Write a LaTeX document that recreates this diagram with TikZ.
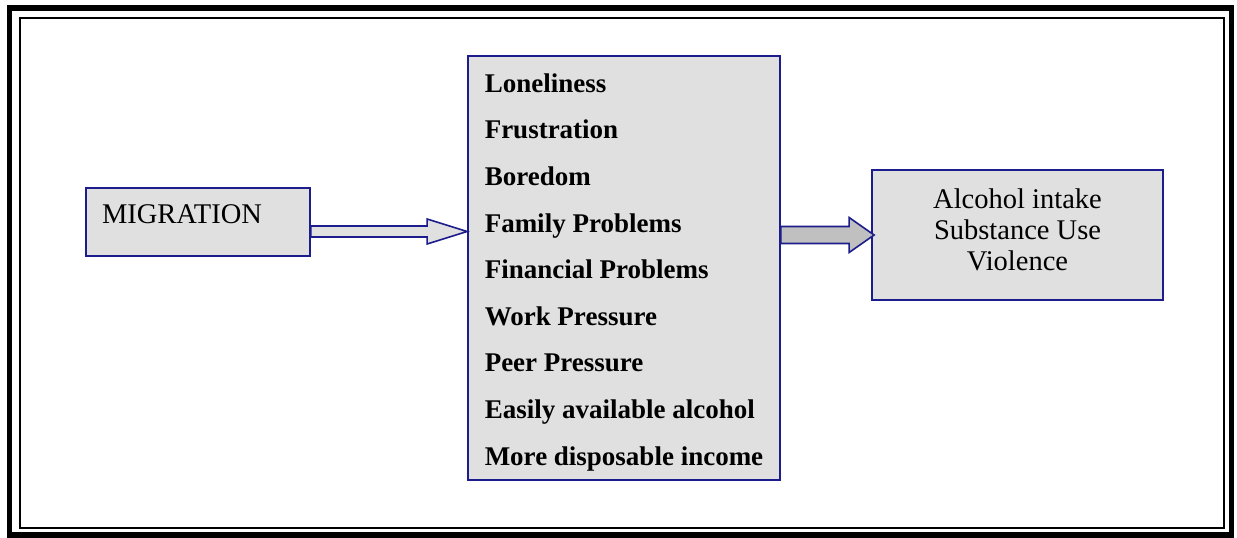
\documentclass[tikz,border=0pt]{standalone}
\usepackage{fontspec}
\setmainfont{Liberation Serif}
\usetikzlibrary{calc}
\definecolor{boxline}{RGB}{28,28,140}
\definecolor{boxfill}{RGB}{224,224,224}
\definecolor{arrowfill}{RGB}{192,192,192}

\begin{document}
\begin{tikzpicture}[
				x=1pt,y=-1pt,
				line join=miter]
			\tikzstyle{cause box}=[draw=boxline,fill=boxfill,line width=1.8,inner sep=0]
			\tikzstyle{hollow arrow}=[draw=boxline,fill=boxfill,line width=1.6]
			\tikzstyle{solid arrow}=[draw=boxline,fill=arrowfill,line width=1.6]
			\useasboundingbox (0,0) rectangle (1237,538);
			% frame
			\draw[line width=5.5] (9.5,8) rectangle (1231.5,535);
			\draw[line width=2.4] (20,18) rectangle (1224,528);
			% boxes
			\node[cause box,minimum width=224,minimum height=68,
				text width=192,align=left,text height=19,text depth=16,
				font=\fontsize{28.5}{31}\selectfont] (migration) at (198,222) {MIGRATION};
			\node[cause box,minimum width=312,minimum height=424,
				align=left,
				font=\bfseries\fontsize{27}{46.6}\selectfont] (factors) at (624,268) {\rule{0pt}{27pt}Loneliness\\
				Frustration\\
				Boredom\\
				Family Problems\\
				Financial Problems\\
				Work Pressure\\
				Peer Pressure\\
				Easily available alcohol\\
				More disposable income};
			\node[cause box,minimum width=291,minimum height=130,
				align=center,
				font=\fontsize{28.5}{31}\selectfont] (outcome) at (1017.5,235) {Alcohol intake\\
				Substance Use\\
				Violence\rule[-10pt]{0pt}{10pt}};
			% arrows
			\coordinate (a1) at ($(migration.east)+(0,9.5)$);
			\draw[hollow arrow] (a1) ++(0,-5.5)
				-- ($(a1 -| factors.west)+(-40,-5.5)$) -- ++(0,-7)
				-- (a1 -| factors.west)
				-- ++(-40,12.5) -- ++(0,-7)
				-- ($(a1)+(0,5.5)$) -- cycle;
			\coordinate (a2) at (factors.east |- outcome.west);
			\draw[solid arrow] (a2) ++(0,-8.5)
				-- ($(outcome.west)+(-22,-8.5)$) -- ++(0,-9)
				-- ($(outcome.west)+(3,0)$)
				-- ++(-25,17.5) -- ++(0,-9)
				-- ($(a2)+(0,8.5)$) -- cycle;
		\end{tikzpicture}
\end{document}
